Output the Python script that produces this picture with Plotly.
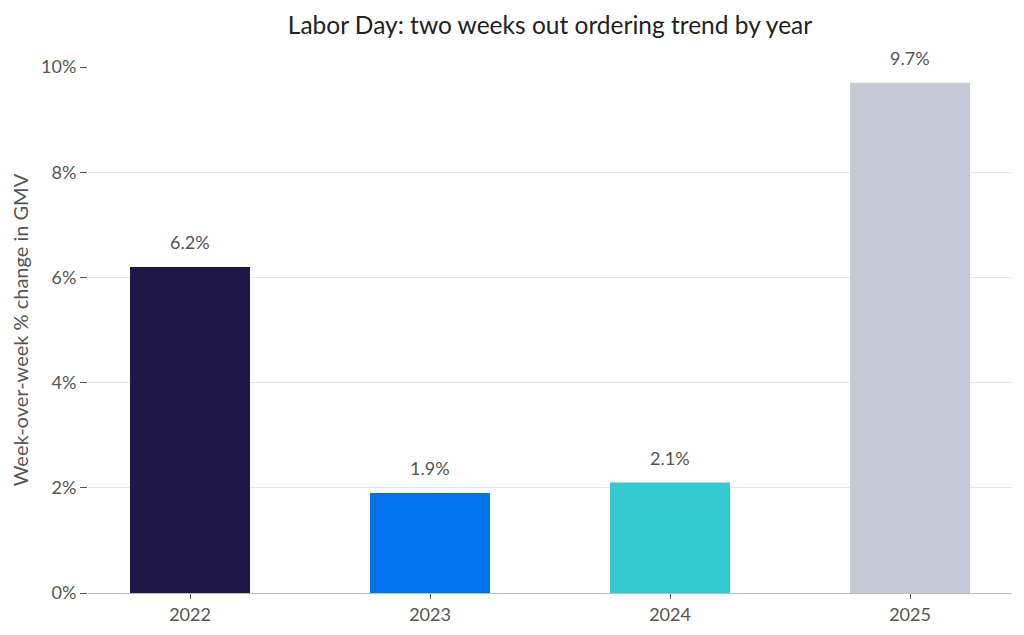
import plotly.graph_objects as go

years = ["2022", "2023", "2024", "2025"]
values = [6.2, 1.9, 2.1, 9.7]
labels = ["6.2%", "1.9%", "2.1%", "9.7%"]
colors = ["#1e1646", "#0073ea", "#33c8d2", "#c4c8d4"]
y_ticks = [0, 2, 4, 6, 8, 10]
y_tick_labels = ["0%", "2%", "4%", "6%", "8%", "10%"]

fig = go.Figure(go.Bar(
    x=years, y=values,
    marker=dict(color=colors, line=dict(width=0)),
    width=0.5,
))

for i, (v, lab) in enumerate(zip(values, labels)):
    fig.add_annotation(x=i, y=v, xref="x", yref="y", text=lab, showarrow=False,
                       yanchor="middle", yshift=25,
                       font=dict(size=18, color="#555555"))

fig.update_layout(
    width=1024, height=635,
    margin=dict(l=80, r=20, t=59, b=50, autoexpand=False),
    paper_bgcolor="white", plot_bgcolor="white",
    font=dict(family="Lato, sans-serif", color="#555555", size=17),
    title=dict(text="Labor Day: two weeks out ordering trend by year",
               x=0.5, xref="paper", xanchor="center", y=0.972, yanchor="middle",
               font=dict(size=24.5, color="#222222")),
    showlegend=False,
)
fig.update_xaxes(
    type="category", range=[-0.425, 3.425], automargin=False,
    showline=True, linecolor="#bdbdb5", linewidth=1.2,
    ticks="outside", ticklen=5, tickcolor="#555555",
    tickfont=dict(size=18, color="#555555"), showgrid=False,
)
fig.update_yaxes(
    range=[0, 10], tickvals=y_ticks, ticktext=y_tick_labels, automargin=False,
    ticks="outside", ticklen=7, tickcolor="#555555",
    showgrid=True, gridcolor="#e6e6dc", gridwidth=1,
    zeroline=False, showline=False,
    tickfont=dict(size=18, color="#555555"),
    title=dict(text="Week-over-week % change in GMV", standoff=8,
               font=dict(size=20, color="#555555")),
)

fig.write_html("out.html")
